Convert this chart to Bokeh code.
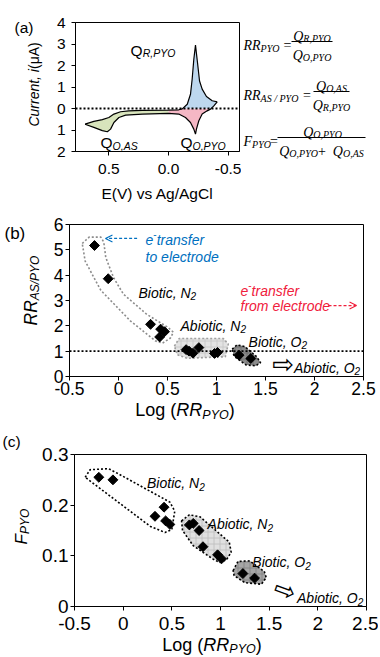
import math
import numpy as np
from bokeh.plotting import figure
from bokeh.models import Range1d, FixedTicker, Label, Span, Arrow, OpenHead, Div
from bokeh.layouts import column, row
from bokeh.embed import file_html
from bokeh.resources import INLINE

SANS = "Liberation Sans"
SERIF = "Liberation Serif"
SYM = "DejaVu Sans"
BLUE = "#0070C0"
RED = "#F0203C"

# ================= DATA =================
# Panel (a): cyclic voltammogram outline (E vs Ag/AgCl in V, current in uA)
cv_upper_E = [0.70, 0.626, 0.555, 0.50, 0.458, 0.402, 0.333, 0.22, 0.0, -0.086, -0.115,
              -0.157, -0.184, -0.198, -0.212, -0.226, -0.243, -0.26, -0.282, -0.318, -0.366, -0.408]
cv_upper_I = [-0.73, -0.60, -0.52, -0.42, -0.26, -0.15, -0.11, -0.09, -0.08, -0.06, -0.02,
              0.20, 0.66, 1.36, 2.29, 2.95, 2.13, 1.28, 0.90, 0.56, 0.36, 0.31]
cv_lower_E = [0.70, 0.626, 0.555, 0.513, 0.486, 0.458, 0.416, 0.36, 0.22, 0.0, -0.086, -0.142,
              -0.184, -0.212, -0.226, -0.234, -0.254, -0.282, -0.324, -0.352, -0.38, -0.408]
cv_lower_I = [-0.73, -0.88, -1.03, -1.08, -0.96, -0.65, -0.42, -0.31, -0.26, -0.23, -0.26, -0.42,
              -0.65, -0.96, -1.19, -0.96, -0.57, -0.26, -0.11, -0.03, 0.12, 0.31]
a_xticks = [0.5, 0.0, -0.5]
a_xlabels = ["0.5", "0.0", "-0.5"]
a_yticks = [4, 3, 2, 1, 0, -1, -2]
a_ylabels = ["4", "3", "2", "1", "0", "1", "2"]

# Panel (b): RR_AS/PYO vs log(RR_PYO)
b_bioN2_x = [-0.245, -0.105, 0.327, 0.42, 0.43, 0.47]
b_bioN2_y = [5.17, 3.86, 2.06, 1.56, 1.87, 1.77]
b_abioN2_x = [0.69, 0.72, 0.76, 0.82, 0.98, 1.01]
b_abioN2_y = [1.06, 1.00, 0.92, 1.14, 0.91, 0.95]
b_bioO2_x = [1.23, 1.35]
b_bioO2_y = [0.84, 0.71]
b_ref_level = 1.0
b_xticks = [-0.5, 0, 0.5, 1, 1.5, 2, 2.5]
b_xlabels = ["-0.5", "0", "0.5", "1", "1.5", "2", "2.5"]
b_yticks = [0, 1, 2, 3, 4, 5, 6]
b_ylabels = ["0", "1", "2", "3", "4", "5", "6"]
b_hull_bioN2_x = [-0.37, -0.30, -0.18, -0.15, -0.13, -0.05, 0.05, 0.29, 0.50, 0.56, 0.53, 0.45, 0.38, 0.12, -0.18, -0.34]
b_hull_bioN2_y = [5.25, 5.50, 5.50, 5.30, 4.70, 3.90, 3.25, 2.45, 1.95, 1.75, 1.52, 1.32, 1.40, 2.20, 3.40, 4.55]
b_hull_abioN2_x = [0.57, 0.62, 1.07, 1.12, 1.09, 0.70, 0.60]
b_hull_abioN2_y = [1.20, 1.50, 1.50, 1.28, 0.78, 0.72, 0.86]
b_hull_bioO2_x = [1.16, 1.21, 1.29, 1.41, 1.45, 1.40, 1.30, 1.18]
b_hull_bioO2_y = [1.08, 1.25, 1.18, 0.78, 0.55, 0.42, 0.46, 0.80]

# Panel (c): F_PYO vs log(RR_PYO)
c_bioN2_x = [-0.25, -0.105, 0.327, 0.42, 0.436, 0.48]
c_bioN2_y = [0.255, 0.250, 0.178, 0.196, 0.169, 0.162]
c_abioN2_x = [0.68, 0.72, 0.78, 0.82, 0.97, 1.01]
c_abioN2_y = [0.161, 0.164, 0.150, 0.118, 0.102, 0.094]
c_bioO2_x = [1.23, 1.35]
c_bioO2_y = [0.065, 0.056]
c_xticks = [-0.5, 0, 0.5, 1, 1.5, 2, 2.5]
c_xlabels = ["-0.5", "0", "0.5", "1", "1.5", "2", "2.5"]
c_yticks = [0, 0.1, 0.2, 0.3]
c_ylabels = ["0", "0.1", "0.2", "0.3"]
c_hull_bioN2_x = [-0.39, -0.34, -0.15, -0.05, 0.48, 0.53, 0.50, 0.43, 0.28]
c_hull_bioN2_y = [0.255, 0.270, 0.272, 0.262, 0.206, 0.188, 0.152, 0.146, 0.158]
c_hull_abioN2_x = [0.60, 0.68, 0.79, 1.09, 1.11, 1.06, 0.99, 0.92, 0.72, 0.61]
c_hull_abioN2_y = [0.169, 0.181, 0.177, 0.127, 0.107, 0.092, 0.087, 0.094, 0.120, 0.150]
c_hull_bioO2_x = [1.13, 1.18, 1.30, 1.45, 1.47, 1.42, 1.25, 1.14]
c_hull_bioO2_y = [0.071, 0.089, 0.090, 0.069, 0.057, 0.044, 0.047, 0.061]

# ================= TEXT HELPERS =================
ARIAL = {' ': 278, '(': 333, ')': 333, ',': 278, '.': 278, '/': 278, '-': 333, '+': 584, '=': 584,
         'A': 667, 'B': 667, 'C': 722, 'E': 667, 'F': 611, 'L': 556, 'N': 722, 'O': 778, 'P': 667,
         'Q': 778, 'R': 722, 'S': 667, 'V': 667, 'Y': 667, 'a': 556, 'b': 556, 'c': 500, 'd': 556,
         'e': 556, 'f': 278, 'g': 556, 'i': 222, 'l': 222, 'm': 833, 'n': 556, 'o': 556, 'r': 333,
         's': 500, 't': 278, 'u': 556, 'v': 500, 'μ': 576}
TIMES_I = {' ': 250, ',': 250, '/': 278, 'A': 611, 'F': 611, 'O': 722, 'P': 611, 'Q': 722,
           'R': 611, 'S': 500, 'Y': 556}
TIMES_R = {' ': 250, '=': 564, '+': 564}


def tw(text, fam, size, style):
    if fam == SERIF:
        tab = TIMES_I if "italic" in style else TIMES_R
    else:
        tab = ARIAL
    return sum(tab.get(ch, 556) for ch in text) * size / 1000.0


def seg(t, size, style="italic", rise=0.0, fam=SANS):
    return (t, fam, size, style, rise)


def put(fig, x, y, segs, align="left", angle=0.0, color="black"):
    ws = [tw(t, f, s, st) for (t, f, s, st, r) in segs]
    total = sum(ws)
    u = {"left": 0.0, "center": -total / 2.0, "right": -total}[align]
    ca, sa = math.cos(angle), math.sin(angle)
    for (t, f, s, st, r), w in zip(segs, ws):
        dx = u * ca - r * sa
        dy = u * sa + r * ca
        fig.add_layout(Label(x=x, y=y, x_offset=dx, y_offset=dy, text=t, angle=angle,
                             text_font=f, text_font_size=f"{s}px", text_font_style=st,
                             text_color=color, text_align="left", text_baseline="alphabetic"))
        u += w


def textfig(x0, x1, y0, y1):
    """Axis-free figure whose data coordinates are page pixels (x0..x1, y0..y1 from top)."""
    t = figure(width=x1 - x0, height=y1 - y0, x_range=Range1d(x0, x1), y_range=Range1d(y1, y0),
               output_backend="svg", toolbar_location=None, min_border=0,
               x_axis_type=None, y_axis_type=None, frame_align=False)
    t.outline_line_color = None
    t.xgrid.visible = False
    t.ygrid.visible = False
    t.background_fill_color = "white"
    t.border_fill_color = "white"
    return t


def xlabel_div(center, height, line_h, fs, sub_fs, sub_drop, width):
    total = tw("Log (", SANS, fs, "normal") + tw("RR", SANS, fs, "italic") + \
        tw("PYO", SANS, sub_fs, "italic") + tw(")", SANS, fs, "normal")
    left = center - total / 2.0
    html = (f'<div style="white-space:nowrap; padding-left:{left:.1f}px; font-family:\'Liberation Sans\'; '
            f'font-size:{fs}px; line-height:{line_h}px; color:black; margin:0">'
            f'Log (<i>RR</i><i style="font-size:{sub_fs}px; vertical-align:-{sub_drop}px; line-height:0">PYO</i>)</div>')
    return Div(text=html, width=width, height=height, margin=0, styles={"overflow": "visible"})


def base(width, height, xr, yr, mbl, mbr, mbt, mbb):
    p = figure(width=width, height=height, x_range=xr, y_range=yr, output_backend="svg",
               toolbar_location=None, min_border_left=mbl, min_border_right=mbr,
               min_border_top=mbt, min_border_bottom=mbb, frame_align=False)
    p.xgrid.visible = False
    p.ygrid.visible = False
    p.outline_line_color = "black"
    p.outline_line_width = 1
    p.outline_line_alpha = 1.0
    p.background_fill_color = "white"
    p.border_fill_color = "white"
    return p


def style_axes(p, fs, xt, xl, yt, yl, xso, yso):
    for ax in (p.xaxis[0], p.yaxis[0]):
        ax.axis_line_color = "black"
        ax.major_tick_line_color = "black"
        ax.major_tick_out = 4
        ax.major_tick_in = 0
        ax.minor_tick_line_color = None
        ax.major_label_text_font = SANS
        ax.major_label_text_font_size = fs
        ax.major_label_text_color = "black"
    p.xaxis[0].ticker = FixedTicker(ticks=xt)
    p.xaxis[0].major_label_overrides = dict(zip(xt, xl))
    p.yaxis[0].ticker = FixedTicker(ticks=yt)
    p.yaxis[0].major_label_overrides = dict(zip(yt, yl))
    p.xaxis[0].major_label_standoff = xso
    p.yaxis[0].major_label_standoff = yso


W = 378  # total layout width

# ================= PANEL (a) =================
pa = base(193, 205, Range1d(0.78, -0.595), Range1d(-2, 4), 27, 2, 22, 54)
style_axes(pa, "15.5px", a_xticks, a_xlabels, a_yticks, a_ylabels, 8, 6)
pa.xaxis[0].axis_label = "E(V) vs Ag/AgCl"
pa.xaxis[0].axis_label_text_font = SANS
pa.xaxis[0].axis_label_text_font_size = "15.5px"
pa.xaxis[0].axis_label_text_font_style = "normal"
pa.xaxis[0].axis_label_text_color = "black"
pa.xaxis[0].axis_label_standoff = 8

uE, uI = np.array(cv_upper_E), np.array(cv_upper_I)
lE, lI = np.array(cv_lower_E), np.array(cv_lower_I)


def zero_cross(E, I):
    for k in range(len(E) - 1):
        if E[k] <= 0 and I[k] < 0 <= I[k + 1]:
            return E[k] + (E[k + 1] - E[k]) * (0 - I[k]) / (I[k + 1] - I[k])
    return 0.0


u0 = zero_cross(uE, uI)
l0 = zero_cross(lE, lI)
gx = np.concatenate([uE[uE >= 0], lE[lE >= 0][::-1]])
gy = np.concatenate([uI[uE >= 0], lI[lE >= 0][::-1]])
mu = (uE <= 0) & (uI < 0)
ml = (lE <= 0) & (lI < 0)
px_ = np.concatenate([uE[mu], [u0, l0], lE[ml][::-1]])
py_ = np.concatenate([uI[mu], [0, 0], lI[ml][::-1]])
bu = (uE < 0) & (uI >= 0)
bl = (lE < 0) & (lI >= 0)
bx = np.concatenate([[u0], uE[bu], lE[bl][::-1], [l0]])
by = np.concatenate([[0], uI[bu], lI[bl][::-1], [0]])

pa.patch(gx, gy, fill_color="#D8E4BC", line_color=None)
pa.patch(px_, py_, fill_color="#F5B7C5", line_color=None)
pa.patch(bx, by, fill_color="#BDD7EE", line_color=None)
pa.line(uE, uI, line_color="black", line_width=1.2)
pa.line(lE, lI, line_color="black", line_width=1.2)
pa.add_layout(Span(location=0, dimension="width", line_color="black", line_dash="2 2", line_width=1.8))

put(pa, 0.318, 2.71, [seg("Q", 15.5, "normal"), seg("R,PYO", 10.5, "italic", -3)])
put(pa, 0.57, -1.59, [seg("Q", 15.5, "normal"), seg("O,AS", 10.5, "italic", -3)])
put(pa, -0.10, -1.59, [seg("Q", 15.5, "normal"), seg("O,PYO", 10.5, "italic", -3)])

la = textfig(0, 48, 0, 205)
put(la, 14, 27, [seg("(a)", 15.5, "normal")])
put(la, 33, 82, [seg("Current, i", 14, "italic"), seg(" (μA)", 14, "normal")],
    align="center", angle=math.pi / 2)

# ================= EQUATIONS =================
pe = textfig(241, W, 0, 205)
MAIN, SUB = 14, 10


def S(t, size=MAIN, style="italic", rise=0.0):
    return seg(t, size, style, rise, SERIF)


eq_bar_y = [41.0, 91.0, 137.0]
frac_bars = [(291, 332), (313, 349), (277, 365)]
pe.segment(x0=[b[0] for b in frac_bars], y0=eq_bar_y,
           x1=[b[1] for b in frac_bars], y1=eq_bar_y, line_color="black", line_width=1)
y = eq_bar_y[0]
put(pe, 243, y + 4, [S("RR"), S("PYO", SUB, rise=-3)])
put(pe, 287, y + 4, [S("=", MAIN, "normal")], align="center")
put(pe, 311.5, y - 5.5, [S("Q"), S("R,PYO", SUB, rise=-2.5)], align="center")
put(pe, 311.5, y + 13.5, [S("Q"), S("O,PYO", SUB, rise=-2.5)], align="center")
y = eq_bar_y[1]
put(pe, 243, y + 4, [S("RR"), S("AS / PYO", SUB, rise=-3)])
put(pe, 306.5, y + 4, [S("=", MAIN, "normal")], align="center")
put(pe, 331, y - 5.5, [S("Q"), S("O,AS", SUB, rise=-2.5)], align="center")
put(pe, 331, y + 13.5, [S("Q"), S("R,PYO", SUB, rise=-2.5)], align="center")
y = eq_bar_y[2]
put(pe, 243, y + 4, [S("F"), S("PYO", SUB, rise=-3)])
put(pe, 273.5, y + 4, [S("=", MAIN, "normal")], align="center")
put(pe, 322, y - 5.5, [S("Q"), S("O,PYO", SUB, rise=-2.5)], align="center")
put(pe, 321, y + 13.5, [S("Q"), S("O,PYO", SUB, rise=-2.5), S(" + ", MAIN, "normal"),
                        S("Q"), S("O,AS", SUB, rise=-2.5)], align="center")

# ================= PANEL (b) =================
ANN, ANS = 14, 10
pb = base(W - 45, 196, Range1d(-0.5, 2.5), Range1d(0, 6), 24, 15, 19, 25)
style_axes(pb, "17.5px", b_xticks, b_xlabels, b_yticks, b_ylabels, 1, 2)
pb.patch(b_hull_bioN2_x, b_hull_bioN2_y, fill_color="white", line_color="#8c8c8c",
         line_dash="2 2", line_width=1.6)
pb.patch(b_hull_abioN2_x, b_hull_abioN2_y, fill_color="#e3e3e3", line_color="#a0a0a0",
         line_dash="2 2", line_width=1.6, hatch_pattern="+", hatch_color="#c4c4c4",
         hatch_scale=6, hatch_weight=0.8)
pb.patch(b_hull_bioO2_x, b_hull_bioO2_y, fill_color="#8c8c8c", line_color="black",
         line_dash="2 2", line_width=1.6, hatch_pattern="+", hatch_color="#6a6a6a",
         hatch_scale=6, hatch_weight=0.8)
pb.add_layout(Span(location=b_ref_level, dimension="width", line_color="black",
                   line_dash="2 2", line_width=1.8))
for xs, ys in ((b_bioN2_x, b_bioN2_y), (b_abioN2_x, b_abioN2_y), (b_bioO2_x, b_bioO2_y)):
    pb.scatter(xs, ys, marker="square", size=7, angle=math.pi / 4, fill_color="black", line_color="black")

put(pb, 0.204, 3.31, [seg("Biotic, N", ANN), seg("2", ANS, rise=-3.5)])
put(pb, 0.633, 2.0, [seg("Abiotic, N", ANN), seg("2", ANS, rise=-3.5)])
put(pb, 1.327, 1.37, [seg("Biotic, O", ANN), seg("2", ANS, rise=-3.5)])
put(pb, 1.79, 0.337, [seg("Abiotic, O", ANN), seg("2", ANS, rise=-3.5)])
pb.add_layout(Label(x=1.679, y=0.495, text="⇨", text_font=SYM, text_font_size="26px",
                    text_align="center", text_baseline="middle", text_color="black"))
put(pb, 0.276, 5.37, [seg("e", ANN), seg("-", ANS, "normal", 6), seg(" transfer", ANN)], color=BLUE)
put(pb, 0.276, 4.73, [seg("to electrode", ANN)], color=BLUE)
put(pb, 1.245, 3.39, [seg("e", ANN), seg("-", ANS, "normal", 6), seg(" transfer", ANN)], color=RED)
put(pb, 1.245, 2.77, [seg("from electrode", ANN)], color=RED)
pb.add_layout(Arrow(end=OpenHead(size=7, line_color=BLUE, line_width=1.2),
                    x_start=0.19, y_start=5.45, x_end=-0.133, y_end=5.45,
                    line_color=BLUE, line_width=1.2, line_dash="3 2"))
pb.add_layout(Arrow(end=OpenHead(size=7, line_color=RED, line_width=1.2),
                    x_start=2.143, y_start=2.8, x_end=2.429, y_end=2.8,
                    line_color=RED, line_width=1.2, line_dash="3 2"))

lb = textfig(0, 45, 205, 401)
put(lb, 4, 233, [seg("(b)", 17, "normal")])
put(lb, 30.5, 325, [seg("RR", 17.5), seg("AS/PYO", 12, rise=-3.5)], angle=math.pi / 2)
xb = xlabel_div(185, 19, 19, 18, 12.5, 3, W)

# ================= PANEL (c) =================
pc = base(W - 36, 218, Range1d(-0.5, 2.5), Range1d(0, 0.3), 38, 12, 34, 32)
style_axes(pc, "19px", c_xticks, c_xlabels, c_yticks, c_ylabels, 6, 2)
pc.patch(c_hull_bioN2_x, c_hull_bioN2_y, fill_color="white", line_color="black",
         line_dash="2 2", line_width=1.6)
pc.patch(c_hull_abioN2_x, c_hull_abioN2_y, fill_color="#e0e0e0", line_color="black",
         line_dash="2 2", line_width=1.6, hatch_pattern="+", hatch_color="#bdbdbd",
         hatch_scale=6, hatch_weight=0.8)
pc.patch(c_hull_bioO2_x, c_hull_bioO2_y, fill_color="#a6a6a6", line_color="black",
         line_dash="2 2", line_width=1.6, hatch_pattern="+", hatch_color="#7f7f7f",
         hatch_scale=6, hatch_weight=0.8)
for xs, ys in ((c_bioN2_x, c_bioN2_y), (c_abioN2_x, c_abioN2_y), (c_bioO2_x, c_bioO2_y)):
    pc.scatter(xs, ys, marker="square", size=7, angle=math.pi / 4, fill_color="black", line_color="black")
put(pc, 0.245, 0.243, [seg("Biotic, N", ANN), seg("2", ANS, rise=-3.5)])
put(pc, 0.867, 0.162, [seg("Abiotic, N", ANN), seg("2", ANS, rise=-3.5)])
put(pc, 1.327, 0.087, [seg("Biotic, O", ANN), seg("2", ANS, rise=-3.5)])
put(pc, 1.786, 0.016, [seg("Abiotic, O", ANN), seg("2", ANS, rise=-3.5)])
pc.add_layout(Label(x=1.663, y=0.032, text="⇨", text_font=SYM, text_font_size="26px", angle=-0.35,
                    text_align="center", text_baseline="middle", text_color="black"))

lc = textfig(0, 36, 420, 638)
put(lc, 2, 441, [seg("(c)", 15.5, "normal")])
put(lc, 20.5, 544, [seg("F", 17), seg("PYO", 12, rise=-3.5)], angle=math.pi / 2)
xc = xlabel_div(212, 18, 15, 18, 12.5, 2, W)

layout = column(row(la, pa, pe),
                row(lb, pb),
                xb,
                row(lc, pc),
                xc)
open("out.html", "w").write(file_html(layout, INLINE))
